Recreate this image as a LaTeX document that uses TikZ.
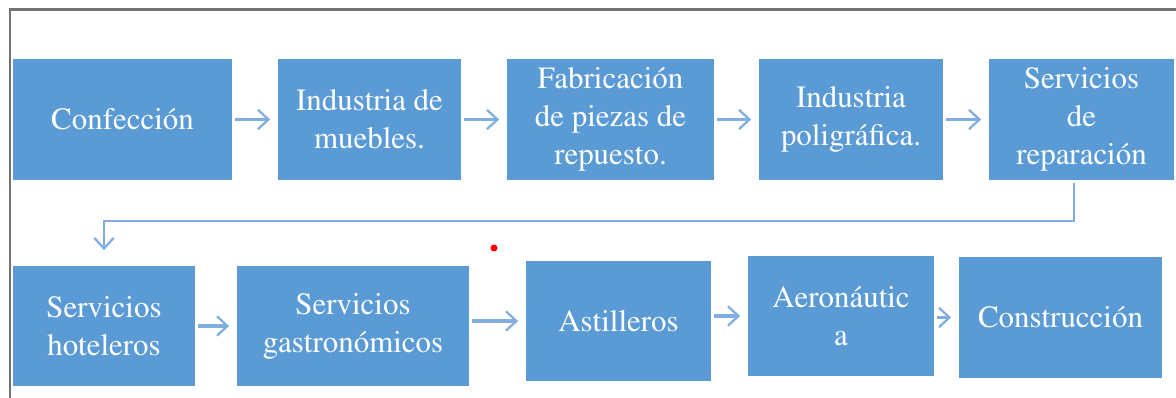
\documentclass[tikz,border=0pt]{standalone}
\usepackage[T1]{fontenc}
\usepackage{times}
\usetikzlibrary{arrows.meta}
\definecolor{boxblue}{HTML}{5B9BD5}
\definecolor{flowblue}{HTML}{80AEE0}
\begin{document}
\begin{tikzpicture}[x=0.02cm, y=-0.02cm,
  sector/.style={fill=boxblue, text=white, align=center, inner sep=0pt, minimum height=2.42cm, font=\rmfamily\fontsize{17.6}{21.5}\selectfont},
  flow/.style={draw=flowblue, line width=2pt, shorten <=0.06cm, shorten >=0.15cm, -{Straight Barb[length=6pt, width=11pt, line width=1.3pt]}},
  turn/.style={flow, line width=1.2pt}]
\useasboundingbox (0,0) rectangle (1176,398);
\draw[line width=0.06cm, gray!90!black] (1176,10) -- (10,10) -- (10,398);
\node[sector, minimum width=4.38cm] (sec0) at (122.5,119.5){Confección};
\node[sector, minimum width=3.66cm] (sec1) at (369.5,119.5){Industria de\\muebles.};
\draw[flow](sec0.east |- sec1.west) -- (sec1.west);
\node[sector, minimum width=4.14cm] (sec2) at (610.5,119.5){Fabricación\\de piezas de\\repuesto.};
\draw[flow](sec1.east |- sec2.west) -- (sec2.west);
\node[sector, minimum width=3.68cm] (sec3) at (851,119.5){Industria\\poligráfica.};
\draw[flow](sec2.east |- sec3.west) -- (sec3.west);
\node[sector, minimum width=3.70cm] (sec4) at (1081.5,119.5){Servicios\\de\\reparación};
\draw[flow](sec3.east |- sec4.west) -- (sec4.west);
\node[sector, minimum width=3.64cm] (sec5) at (104,326){Servicios\\hoteleros};
\draw[turn]([xshift=-0.15cm]sec4.south) -- ++(0,41) -| ([yshift=0.15cm]sec5.north);
\node[sector, minimum width=4.64cm] (sec6) at (353,326){Servicios\\gastronómicos};
\draw[flow](sec5.east |- sec6.west) -- (sec6.west);
\node[sector, minimum width=3.70cm] (sec7) at (618.5,321){Astilleros};
\draw[flow](sec6.east |- sec7.west) -- (sec7.west);
\node[sector, minimum width=3.72cm] (sec8) at (841,316){Aeronáutic\\a};
\draw[flow](sec7.east |- sec8.west) -- (sec8.west);
\node[sector, minimum width=4.06cm] (sec9) at (1060.5,317.5){Construcción};
\draw[flow](sec8.east |- sec9.west) -- (sec9.west);
\fill[red] (494,248) circle (0.07cm);
\end{tikzpicture}
\end{document}
